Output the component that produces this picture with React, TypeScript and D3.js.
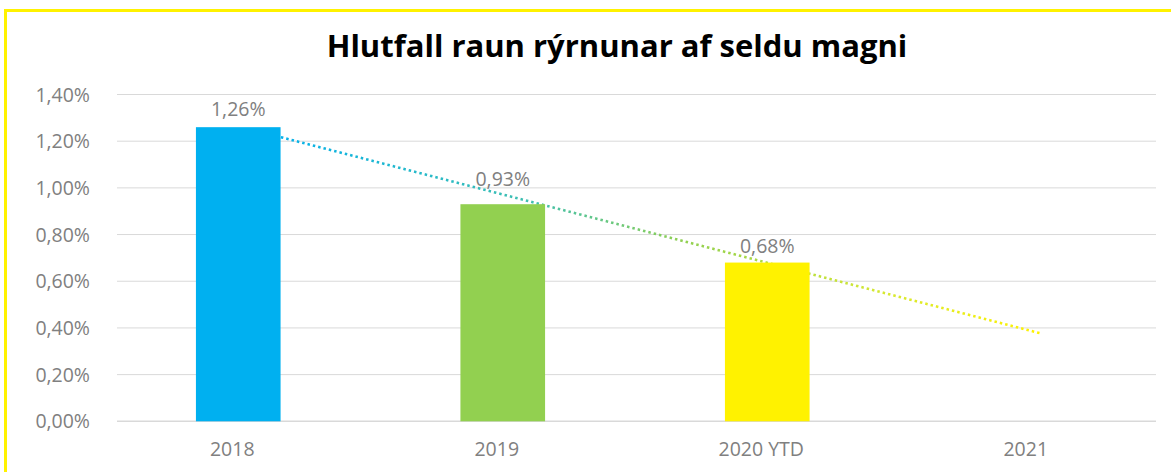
import React from "react";
import * as d3 from "d3";

const categories = ["2018", "2019", "2020 YTD", "2021"];
const values: (number | null)[] = [1.26, 0.93, 0.68, null];
const barColors = ["#00B0F0", "#92D050", "#FFF200", "#cccccc"];
const yTicks = [0, 0.2, 0.4, 0.6, 0.8, 1.0, 1.2, 1.4];
const title = "Hlutfall raun rýrnunar af seldu magni";

const W = 1171;
const H = 472;
const FONT = "'Open Sans', 'Noto Sans', sans-serif";
const GREY = "#808080";

export default function App() {
  const y = d3.scaleLinear().domain([0, 1.4]).range([421.3, 94.5]);
  const x = d3.scaleBand().domain(categories).range([106, 1164]).paddingInner(0.68).paddingOuter(0.34);
  const bw = x.bandwidth();
  const cx = (c: string) => (x(c) as number) + bw / 2;

  // linear trend fitted on the known values, extended to the last category
  const known = values
    .map((v, i) => ({ i, v }))
    .filter((d) => d.v !== null) as { i: number; v: number }[];
  const mx = d3.mean(known, (d) => d.i) as number;
  const my = d3.mean(known, (d) => d.v) as number;
  const slope =
    d3.sum(known, (d) => (d.i - mx) * (d.v - my)) / d3.sum(known, (d) => (d.i - mx) * (d.i - mx));
  const intercept = my - slope * mx;
  const xt = d3
    .scaleLinear()
    .domain([0, categories.length - 1])
    .range([cx(categories[0]) + 16, cx(categories[categories.length - 1]) + 9]);
  const trendPts: [number, number][] = d3
    .range(0, categories.length)
    .map((i) => [xt(i), y(intercept + slope * i)]);
  const line = d3.line<[number, number]>();
  const fmt = (v: number) => v.toFixed(2).replace(".", ",") + "%";
  const labelGap = [11, 18, 10, 10];

  return (
    <svg width={W} height={H} style={{ position: "absolute", left: 0, top: 0, background: "#fff" }}>
      <defs>
        <linearGradient id="trendGrad" gradientUnits="userSpaceOnUse" x1={trendPts[0][0]} y1={0} x2={trendPts[3][0]} y2={0}>
          <stop offset="0" stopColor="#00B0F0" />
          <stop offset="0.35" stopColor="#3fbfb0" />
          <stop offset="0.55" stopColor="#92D050" />
          <stop offset="0.8" stopColor="#d6e832" />
          <stop offset="1" stopColor="#FFF200" />
        </linearGradient>
      </defs>
      <rect x={0} y={0} width={W} height={H} fill="#fff" />
      {/* yellow frame */}
      <line x1={5.5} y1={10.5} x2={W} y2={10.5} stroke="#FFF200" strokeWidth={3} />
      <line x1={5.5} y1={9} x2={5.5} y2={H} stroke="#FFF200" strokeWidth={3} />

      <text x={617} y={57} textAnchor="middle" fontFamily={FONT} fontWeight={700} fontSize={31} fill="#000">
        {title}
      </text>

      {yTicks.map((t) => (
        <g key={t}>
          <line x1={117} x2={1156} y1={y(t)} y2={y(t)} stroke="#d9d9d9" strokeWidth={t === 0 ? 1.5 : 1} />
          <text x={90} y={y(t) + 7} textAnchor="end" fontFamily={FONT} fontSize={19.5} fill={GREY}>
            {fmt(t)}
          </text>
        </g>
      ))}

      <path d={line(trendPts) as string} fill="none" stroke="url(#trendGrad)" strokeWidth={2.5} strokeDasharray="2.5 3" />

      {categories.map((c, i) => {
        const v = values[i];
        return (
          <g key={c}>
            {v !== null && (
              <>
                <rect x={x(c)} y={y(v)} width={bw} height={y(0) - y(v)} fill={barColors[i]} />
                <text x={cx(c)} y={y(v) - labelGap[i]} textAnchor="middle" fontFamily={FONT} fontSize={19.5} fill={GREY}>
                  {fmt(v)}
                </text>
              </>
            )}
            <text x={cx(c) - 6} y={456} textAnchor="middle" fontFamily={FONT} fontSize={19.5} fill={GREY}>
              {c}
            </text>
          </g>
        );
      })}
    </svg>
  );
}
